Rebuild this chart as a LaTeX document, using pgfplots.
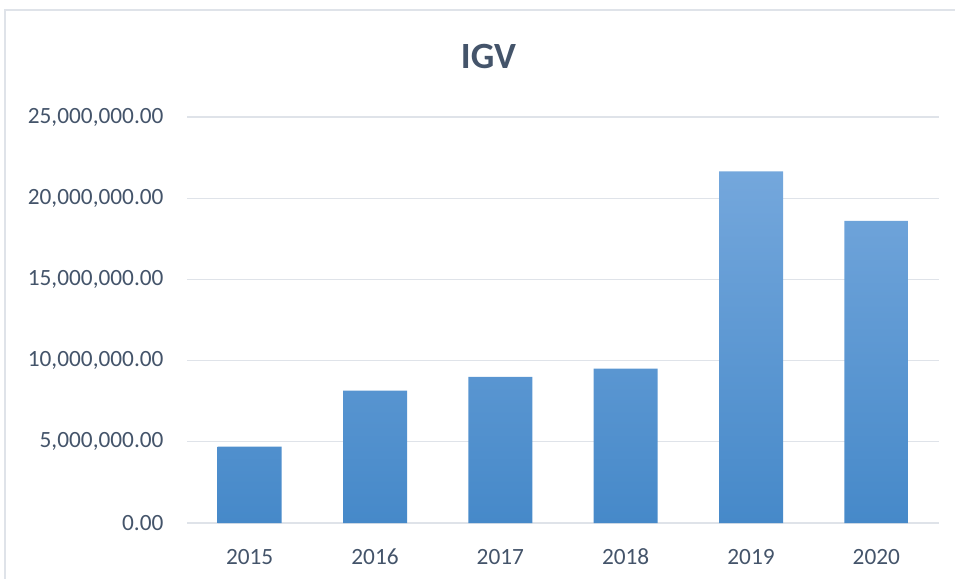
\documentclass[border=0pt]{standalone}
\usepackage{pgfplots}
\pgfplotsset{compat=1.18}
\usepackage{fontspec}
\setmainfont{Carlito}
\definecolor{txtcol}{HTML}{44546A}
\definecolor{gridcol}{HTML}{DFE3E9}
\definecolor{bartop}{HTML}{74A7DC}
\definecolor{barmid}{HTML}{5B9BDA}
\definecolor{barbot}{HTML}{4689C9}
\begin{document}
\begin{tikzpicture}[x=1pt,y=1pt]
\useasboundingbox (0,0) rectangle (955,578);
\draw[gridcol, line width=1.5pt] (5,-5) -- (5,568) -- (965,568);
\node[anchor=base, font=\bfseries\fontsize{37}{40}\selectfont, text=txtcol] at (488.5,509) {IGV};
\begin{axis}[
  at={(187pt,55pt)}, anchor=south west,
  scale only axis, width=752pt, height=406pt,
  xmin=-0.5, xmax=5.5, ymin=0, ymax=25000000,
  axis line style={draw=none},
  tick style={draw=none},
  ymajorgrids, grid style={gridcol, line width=1.3pt},
  xtick={0,1,2,3,4,5},
  xticklabels={2015,2016,2017,2018,2019,2020},
  ytick={0,5000000,10000000,15000000,20000000,25000000},
  yticklabels={{0.00},{5,000,000.00},{10,000,000.00},{15,000,000.00},{20,000,000.00},{25,000,000.00}},
  ticklabel style={font=\fontsize{23.3}{26}\selectfont, text=txtcol},
  yticklabel style={anchor=east, xshift=-20pt},
  xticklabel style={anchor=north, yshift=-25pt, text height=13pt, text depth=0pt},
  scaled y ticks=false,
  clip=false,
]
\addplot[ybar, bar width=64pt, draw=none, top color=bartop, middle color=barmid, bottom color=barbot] coordinates {
  (0,4700000) (1,8150000) (2,9000000) (3,9500000) (4,21650000) (5,18600000)
};
\end{axis}
\end{tikzpicture}
\end{document}
